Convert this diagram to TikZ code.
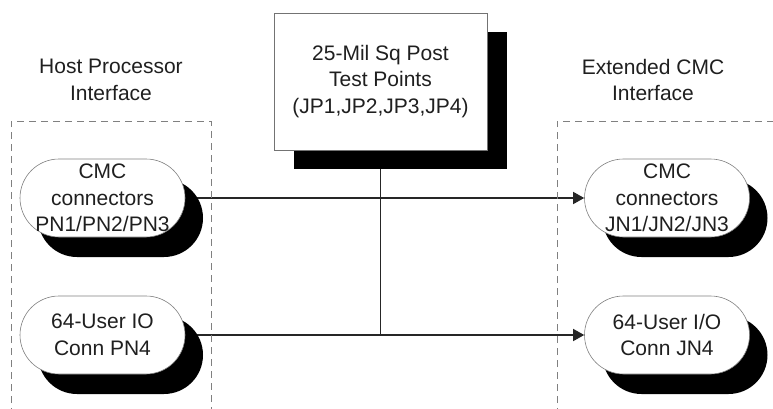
\documentclass[tikz,border=0pt]{standalone}
\usepackage{fontspec}
\setmainfont{Liberation Sans}
\usetikzlibrary{shadows,backgrounds,arrows.meta}
\begin{document}
\begin{tikzpicture}[x=1pt,y=-1pt,
  font=\fontsize{21pt}{26.5pt}\selectfont,
  txt/.style={text=black!88, align=center},
  pill/.style={txt, draw=black!50, line width=0.6pt, fill=white,
    rectangle, rounded corners=39pt, minimum width=165pt, minimum height=78pt, inner sep=0pt,
    drop shadow={shadow xshift=18pt, shadow yshift=-20pt, fill=black, opacity=1}},
  postbox/.style={txt, draw=black!55, line width=0.6pt, fill=white,
    rectangle, minimum width=213pt, minimum height=137pt, inner sep=0pt,
    drop shadow={shadow xshift=20pt, shadow yshift=-19pt, fill=black, opacity=1}},
  frame/.style={draw=black!50, line width=0.9pt, dash pattern=on 7pt off 5pt},
  conn/.style={draw=black!85, line width=1.4pt},
  arr/.style={conn, -{Triangle[length=11pt,width=12pt]}}
]
\useasboundingbox (0,0) rectangle (773,409);

% interface frames
\draw[frame] (11,415) -- (11,121) -- (211,121) -- (211,415);
\draw[frame] (557,415) -- (557,121) -- (780,121);

% labels
\node[txt] (hostlbl) at (111,80) {Host Processor\\Interface};
\node[txt] (extlbl) at (653,80) {Extended CMC\\Interface};

% test point box
\node[postbox] (tp) at (380.5,81.5) {25-Mil Sq Post\\Test Points\\(JP1,JP2,JP3,JP4)};

% connectors
\node[pill] (p1) at (102.5,198) {CMC\\connectors\\PN1/PN2/PN3};
\node[pill] (p2) at (102.5,335) {64-User IO\\Conn PN4};
\node[pill] (j1) at (667,198) {CMC\\connectors\\JN1/JN2/JN3};
\node[pill] (j2) at (667,335) {64-User I/O\\Conn JN4};

\coordinate (tee) at (tp.center |- p2.center);

\begin{pgfonlayer}{background}
  \draw[arr] (p1.center) -- (j1.west);
  \draw[arr] (p2.center) -- (j2.west);
  \draw[conn] (tp.center) -- (tee);
\end{pgfonlayer}
\end{tikzpicture}
\end{document}
